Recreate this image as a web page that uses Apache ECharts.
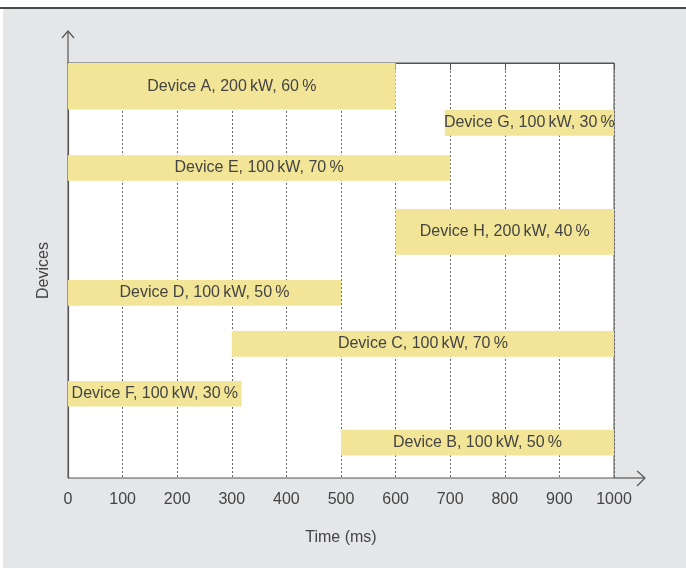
<!DOCTYPE html>
<html>
<head>
<meta charset="utf-8">
<script src="https://cdn.jsdelivr.net/npm/echarts@6/dist/echarts.min.js"></script>
<style>
html, body { margin: 0; padding: 0; background: #fff; }
#main { width: 686px; height: 569px; }
</style>
</head>
<body>
<div id="main"></div>
<script>
// devices, start/end time (ms), lane top/bottom (% of plot height from the top)
const devices = ['Device A', 'Device G', 'Device E', 'Device H', 'Device D', 'Device C', 'Device F', 'Device B']
const powerKw = [200, 100, 100, 200, 100, 100, 100, 100]
const loadPct = [60, 30, 70, 40, 50, 70, 30, 50]
const startMs = [0, 690, 0, 600, 0, 300, 0, 500]
const endMs = [600, 1000, 700, 1000, 500, 1000, 318, 1000]
const laneTop = [0, 11.3, 22.2, 35.2, 52.3, 64.6, 76.6, 88.4]
const laneBottom = [11.2, 17.5, 28.4, 46.2, 58.5, 70.8, 82.8, 94.6]
const timeTicks = [0, 100, 200, 300, 400, 500, 600, 700, 800, 900, 1000]

const chart = echarts.init(document.getElementById('main'))
const FONT = '"Liberation Sans", Arial, sans-serif'
const TS = '\u2009'

let rows = []
for (let i = 0; i < devices.length; i++) {
	let label = devices[i] + ', ' + powerKw[i] + TS + 'kW, ' + loadPct[i] + TS + '%'
	rows.push([startMs[i], endMs[i], laneTop[i], laneBottom[i], label])
}

function renderBar(params, api) {
	let p0 = api.coord([api.value(0), api.value(2)])
	let p1 = api.coord([api.value(1), api.value(3)])
	return {
		type: 'rect',
		shape: { x: p0[0], y: p0[1], width: p1[0] - p0[0], height: p1[1] - p0[1] },
		style: { fill: '#f2e597' },
		textContent: {
			style: {
				text: rows[params.dataIndex][4],
				fill: '#444',
				fontSize: 16,
				fontFamily: FONT
			}
		},
		textConfig: { position: 'inside' }
	}
}

const option = {
	animation: false,
	graphic: [
		{ type: 'rect', z: -10, shape: { x: 3, y: 9, width: 683, height: 559 }, style: { fill: '#e5e6e8' } },
		{ type: 'line', shape: { x1: 0, y1: 8, x2: 686, y2: 8 }, style: { stroke: '#4a4a4a', lineWidth: 2 } },
		// axis extensions with open arrow heads
		{ type: 'polyline', z: 100, shape: { points: [[68, 63], [68, 31]] }, style: { stroke: '#555', lineWidth: 1.2 } },
		{ type: 'polyline', z: 100, shape: { points: [[62, 38], [68, 31], [74, 38]] }, style: { stroke: '#555', lineWidth: 1.2, fill: null } },
		{ type: 'polyline', z: 100, shape: { points: [[614, 478], [645, 478]] }, style: { stroke: '#555', lineWidth: 1.2 } },
		{ type: 'polyline', z: 100, shape: { points: [[637, 471], [645, 478], [637, 486]] }, style: { stroke: '#555', lineWidth: 1.2, fill: null } }
	],
	grid: {
		left: 68, right: 72, top: 63, bottom: 91,
		show: true, backgroundColor: '#fff', borderColor: '#555', borderWidth: 1
	},
	xAxis: {
		type: 'value', min: 0, max: 1000, interval: 100,
		name: 'Time (ms)', nameLocation: 'middle', nameGap: 52,
		nameTextStyle: { fontSize: 16, color: '#444', fontFamily: FONT },
		axisLine: { show: true, lineStyle: { color: '#555', width: 1.2 } },
		axisTick: { show: true, length: 7, lineStyle: { color: '#555' } },
		axisLabel: { fontSize: 16, color: '#444', fontFamily: FONT, margin: 14,
			formatter: function (v) { return timeTicks.indexOf(v) >= 0 ? String(v) : '' } },
		splitLine: { show: true, lineStyle: { color: '#666', type: [2, 2], width: 1 } }
	},
	yAxis: {
		type: 'value', min: 0, max: 100, inverse: true,
		name: 'Devices', nameLocation: 'middle', nameGap: 16, nameRotate: 90,
		nameTextStyle: { fontSize: 16, color: '#444', fontFamily: FONT },
		axisLine: { show: true, onZero: false, lineStyle: { color: '#555', width: 1.2 } },
		axisTick: { show: false },
		axisLabel: { show: false },
		splitLine: { show: false }
	},
	series: [{
		type: 'custom',
		renderItem: renderBar,
		encode: { x: [0, 1], y: [2, 3] },
		data: rows,
		z: 5
	}]
}

chart.setOption(option)
</script>
</body>
</html>
